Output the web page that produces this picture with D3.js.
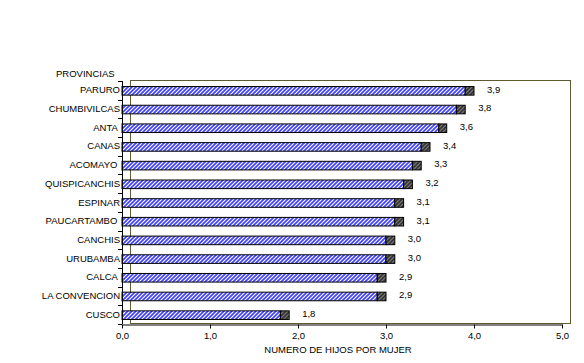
<!DOCTYPE html>
<html>
<head>
<meta charset="utf-8">
<script src="https://cdn.jsdelivr.net/npm/d3@7"></script>
<style>
  body { margin: 0; background: #fff; }
  svg { font-family: 'Liberation Sans', Arial, sans-serif; }
  .lbl { white-space: pre; }
</style>
</head>
<body>
<div id="chart"></div>
<script>
// data
const provincias = ['PARURO', 'CHUMBIVILCAS', 'ANTA ', 'CANAS', 'ACOMAYO ', 'QUISPICANCHIS', 'ESPINAR',
  'PAUCARTAMBO ', 'CANCHIS', 'URUBAMBA', 'CALCA ', 'LA CONVENCION', 'CUSCO']
const hijos = [3.9, 3.8, 3.6, 3.4, 3.3, 3.2, 3.1, 3.1, 3.0, 3.0, 2.9, 2.9, 1.8]
const extra = [0.1, 0.1, 0.09, 0.1, 0.1, 0.1, 0.1, 0.1, 0.1, 0.1, 0.1, 0.1, 0.1]
const xTicks = [0, 1, 2, 3, 4, 5]

const W = 584, H = 363
const margin = { top: 81, right: 22, bottom: 39, left: 122 }
const width = 562 - margin.left,
  height = H - margin.top - margin.bottom

const svg = d3.select('#chart')
  .append('svg')
  .attr('width', W)
  .attr('height', H)

// hatch patterns
const defs = svg.append('defs')
const blue = defs.append('pattern')
  .attr('id', 'hatchBlue')
  .attr('patternUnits', 'userSpaceOnUse')
  .attr('width', 4).attr('height', 4)
blue.append('rect').attr('width', 4).attr('height', 4).attr('fill', '#fff')
blue.append('path')
  .attr('d', 'M-1,1 l2,-2 M0,4 l4,-4 M3,5 l2,-2')
  .attr('stroke', '#4040ff').attr('stroke-width', 1.7)

const dark = defs.append('pattern')
  .attr('id', 'hatchDark')
  .attr('patternUnits', 'userSpaceOnUse')
  .attr('width', 4).attr('height', 4)
dark.append('rect').attr('width', 4).attr('height', 4).attr('fill', '#333')
dark.append('path')
  .attr('d', 'M-1,1 l2,-2 M0,4 l4,-4 M3,5 l2,-2')
  .attr('stroke', '#7a7a7a').attr('stroke-width', 1.2)

const g = svg.append('g')
  .attr('transform', 'translate(' + margin.left + ',' + margin.top + ')')

const x = d3.scaleLinear().domain([0, 5]).range([0, width])
const y = d3.scaleBand().domain(provincias).range([0, height]).paddingInner(0.54).paddingOuter(0.27)
const fmt = v => d3.format('.1f')(v).replace('.', ',')

// plot area frame (olive, offset like the original)
g.append('rect')
  .attr('x', 8.5).attr('y', -0.5)
  .attr('width', width)
  .attr('height', height)
  .attr('fill', 'none')
  .attr('stroke', '#5c5c30')
  .attr('stroke-width', 1)

// bars
const rows = g.selectAll('.row')
  .data(provincias.map((p, i) => ({ p, v: hijos[i], e: extra[i] })))
  .join('g')
  .attr('class', 'row')

rows.append('rect')
  .attr('x', x(0))
  .attr('y', d => y(d.p) + 0.5)
  .attr('width', d => x(d.v))
  .attr('height', y.bandwidth())
  .attr('fill', 'url(#hatchBlue)')
  .attr('stroke', '#000')

rows.append('rect')
  .attr('x', d => x(d.v))
  .attr('y', d => y(d.p) + 0.5)
  .attr('width', d => x(d.v + d.e) - x(d.v))
  .attr('height', y.bandwidth())
  .attr('fill', 'url(#hatchDark)')
  .attr('stroke', '#000')

rows.append('text')
  .attr('x', d => x(d.v + d.e) + 13)
  .attr('y', d => y(d.p) + y.bandwidth() / 2 - 1)
  .attr('dy', '0.35em')
  .attr('font-size', 9.5)
  .text(d => fmt(d.v))

// y axis
const yAxis = g.append('g')
  .call(d3.axisLeft(y).tickSize(0).tickPadding(2))
yAxis.select('.domain').remove()
yAxis.selectAll('text')
  .attr('class', 'lbl')
  .attr('font-size', 9.5)
  .attr('fill', '#000')
  .attr('font-family', null)

g.append('line')
  .attr('x1', 0.5).attr('x2', 0.5)
  .attr('y1', 0).attr('y2', height)
  .attr('stroke', '#000')

// band separator ticks on y axis
g.selectAll('.ytick')
  .data(d3.range(provincias.length + 1))
  .join('line')
  .attr('x1', -4).attr('x2', 0)
  .attr('y1', i => Math.round(i * height / provincias.length) + 0.5)
  .attr('y2', i => Math.round(i * height / provincias.length) + 0.5)
  .attr('stroke', '#000')

// x axis
const xAxis = g.append('g')
  .attr('transform', 'translate(0,' + (height + 0.5) + ')')
  .call(d3.axisBottom(x).tickValues(xTicks).tickSize(4).tickSizeOuter(0).tickPadding(4).tickFormat(fmt))
xAxis.select('.domain').attr('stroke', '#000')
xAxis.selectAll('.tick line').attr('stroke', '#000')
xAxis.selectAll('text')
  .attr('font-size', 9.5)
  .attr('fill', '#000')
  .attr('font-family', null)

// titles
svg.append('text')
  .attr('x', 56).attr('y', 77)
  .attr('font-size', 9.5)
  .text('PROVINCIAS')

svg.append('text')
  .attr('x', 338).attr('y', 353)
  .attr('text-anchor', 'middle')
  .attr('font-size', 9.5)
  .text('NUMERO DE HIJOS POR MUJER')
</script>
</body>
</html>
